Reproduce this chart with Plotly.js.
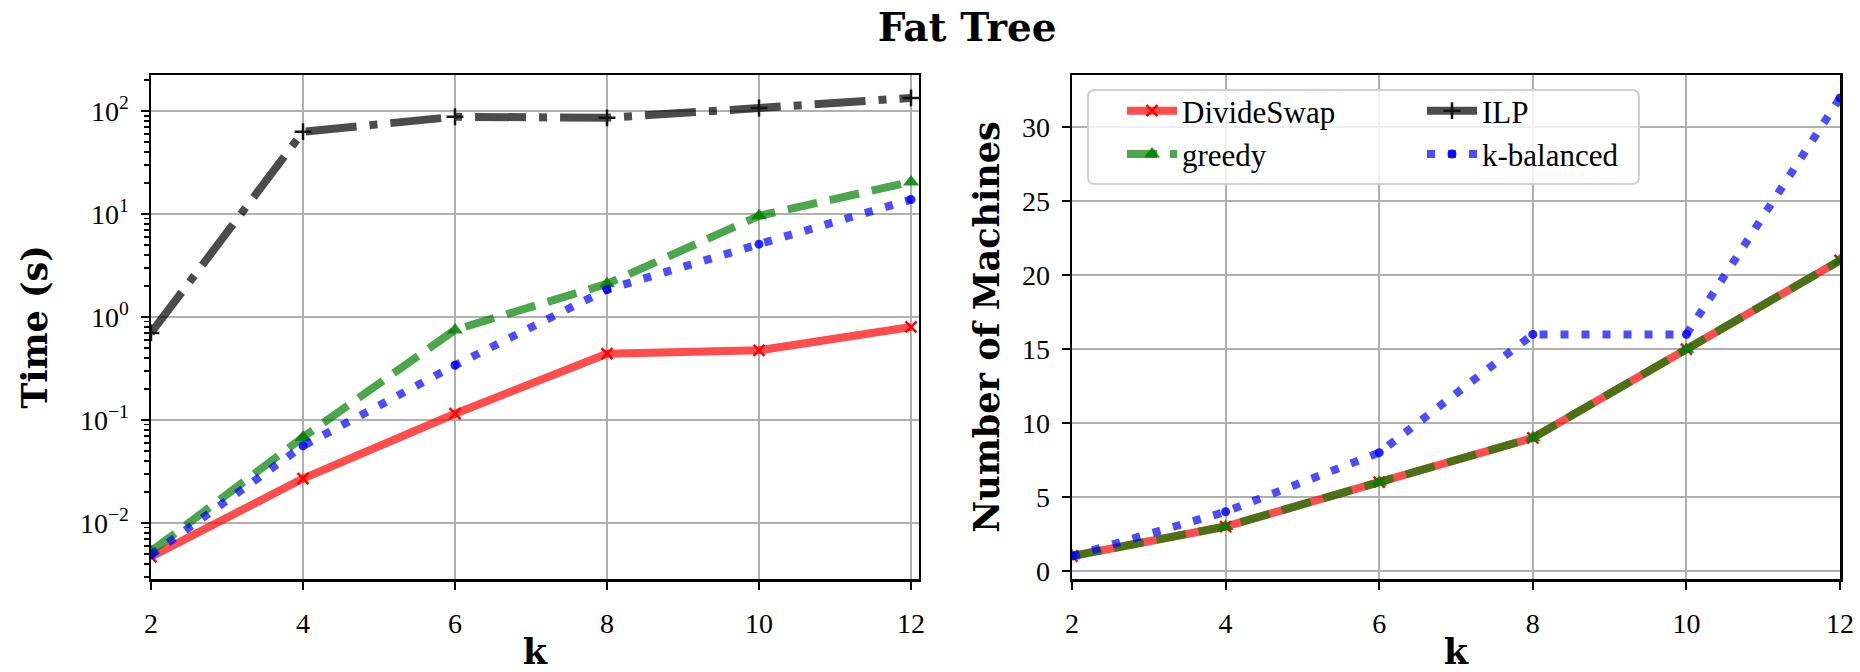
<!DOCTYPE html>
<html>
<head>
<meta charset="utf-8">
<script src="https://cdn.plot.ly/plotly-3.0.1.min.js"></script>
<style>html,body{margin:0;padding:0;background:#fff;}#chart{width:1860px;height:672px;}</style>
</head>
<body>
<div id="chart"></div>
<script>
// ---- data ----
const k = [2, 4, 6, 8, 10, 12];
const timeDivideSwap = [0.0047, 0.027, 0.115, 0.44, 0.475, 0.8];
const timeGreedy = [0.0053, 0.068, 0.75, 2.1, 9.6, 20.5];
const timeILP = [0.7, 63, 88, 86, 107, 134];
const timeKBalanced = [0.0049, 0.056, 0.34, 1.85, 5.1, 13.8];
const machinesDivideSwap = [1, 3, 6, 9, 15, 21];
const machinesGreedy = [1, 3, 6, 9, 15, 21];
const machinesKBalanced = [1, 4, 8, 16, 16, 32];
const xTicks = [2, 4, 6, 8, 10, 12];
const logTickVals = [0.01, 0.1, 1, 10, 100];
const logTickText = ['10<sup>−2</sup>', '10<sup>−1</sup>', '10<sup>0</sup>', '10<sup>1</sup>', '10<sup>2</sup>'];
const machineTicks = [0, 5, 10, 15, 20, 25, 30];

// minor tick positions for log axis
const minorLog = [];
for (let e = -3; e <= 2; e++) for (let m = 2; m <= 9; m++) minorLog.push(m * Math.pow(10, e));

const LW = 8;
const styles = {
  DivideSwap: {line: {color: 'rgba(255,0,0,0.7)', width: LW, dash: 'solid'},
               marker: {symbol: 'x-thin', size: 11, color: 'rgb(255,0,0)', line: {color: 'rgb(255,0,0)', width: 2.5}}},
  greedy: {line: {color: 'rgba(0,128,0,0.7)', width: LW, dash: '30px,13px'},
           marker: {symbol: 'triangle-up', size: 14, color: 'rgba(0,128,0,0.85)', line: {width: 0}}},
  ILP: {line: {color: 'rgba(0,0,0,0.7)', width: LW, dash: '51px,13px,8px,13px'},
        marker: {symbol: 'cross-thin', size: 12, color: 'rgb(20,20,20)', line: {color: 'rgb(20,20,20)', width: 2.5}}},
  kbal: {line: {color: 'rgba(0,0,255,0.7)', width: LW, dash: '8px,13px'},
         marker: {symbol: 'circle', size: 9, color: 'rgba(0,0,255,0.85)', line: {width: 0}}}
};

function tr(name, x, y, st, xa, ya, show, leg) {
  return {type: 'scatter', mode: 'lines+markers', name: name, x: x, y: y,
    xaxis: xa, yaxis: ya, line: st.line, marker: st.marker,
    showlegend: show, legend: leg, hoverinfo: 'skip'};
}

const data = [
  tr('DivideSwap', k, timeDivideSwap, styles.DivideSwap, 'x', 'y', true, 'legend'),
  tr('greedy', k, timeGreedy, styles.greedy, 'x', 'y', true, 'legend'),
  tr('ILP', k, timeILP, styles.ILP, 'x', 'y', true, 'legend2'),
  tr('k-balanced', k, timeKBalanced, styles.kbal, 'x', 'y', true, 'legend2'),
  tr('DivideSwap', k, machinesDivideSwap, styles.DivideSwap, 'x2', 'y2', false, 'legend'),
  tr('greedy', k, machinesGreedy, styles.greedy, 'x2', 'y2', false, 'legend'),
  tr('k-balanced', k, machinesKBalanced, styles.kbal, 'x2', 'y2', false, 'legend2')
];

const tickFont = {family: 'Liberation Serif', size: 28, color: '#000'};
const boldFont = {family: 'DejaVu Serif', size: 35, color: '#000'};
const gridColor = '#b0b0b0';

function xaxis(domain, range, anchor) {
  return {domain: domain, range: range, anchor: anchor, tickmode: 'array', tickvals: xTicks,
    ticks: 'outside', ticklen: 8, tickwidth: 2, tickcolor: '#000', ticklabelstandoff: 10,
    showline: true, linecolor: '#000', linewidth: 2.5, mirror: true,
    showgrid: true, gridcolor: gridColor, gridwidth: 2, zeroline: false,
    tickfont: tickFont, title: {text: '<b>k</b>', font: boldFont, standoff: 12}};
}

// legend frame (paper coords of the plotting area)
const P = {l: 151, r: 20, t: 75, b: 93, W: 1860, H: 672};
const pw = P.W - P.l - P.r, ph = P.H - P.t - P.b;
function px(x) { return (x - P.l) / pw; }
function py(y) { return (P.H - P.b - y) / ph; }
function roundRect(x0, y0, x1, y1, r) {
  const rx = r / pw, ry = r / ph;
  const a = px(x0), b = px(x1), top = py(y0), bot = py(y1);
  return `M${a + rx},${top} L${b - rx},${top} Q${b},${top} ${b},${top - ry} L${b},${bot + ry} Q${b},${bot} ${b - rx},${bot} L${a + rx},${bot} Q${a},${bot} ${a},${bot + ry} L${a},${top - ry} Q${a},${top} ${a + rx},${top} Z`;
}

const legFont = {family: 'Liberation Serif', size: 31, color: '#000'};
const layout = {
  width: P.W, height: P.H,
  paper_bgcolor: '#fff', plot_bgcolor: '#fff',
  margin: {l: P.l, r: P.r, t: P.t, b: P.b},
  title: {text: '<b>Fat Tree</b>', x: 0.52, xanchor: 'center', y: 0.96, yanchor: 'middle',
    font: {family: 'DejaVu Serif', size: 39, color: '#000'}},
  xaxis: xaxis([0, 0.4547], [2, 12.105], 'y'),
  xaxis2: xaxis([0.5453, 1], [2, 12], 'y2'),
  yaxis: {domain: [0, 1], type: 'log', range: [-2.544, 2.35], anchor: 'x',
    tickmode: 'array', tickvals: logTickVals, ticktext: logTickText,
    ticks: 'outside', ticklen: 8, tickwidth: 2, tickcolor: '#000', ticklabelstandoff: 6,
    minor: {tickmode: 'array', tickvals: minorLog, ticks: 'outside', ticklen: 5, tickwidth: 1.5, tickcolor: '#000', showgrid: false},
    showline: true, linecolor: '#000', linewidth: 2.5, mirror: true,
    showgrid: true, gridcolor: gridColor, gridwidth: 2, zeroline: false,
    tickfont: tickFont, title: {text: '<b>Time (s)</b>', font: boldFont, standoff: 22}},
  yaxis2: {domain: [0, 1], range: [-0.55, 33.55], anchor: 'x2',
    tickmode: 'array', tickvals: machineTicks,
    ticks: 'outside', ticklen: 8, tickwidth: 2, tickcolor: '#000', ticklabelstandoff: 6,
    showline: true, linecolor: '#000', linewidth: 2.5, mirror: true,
    showgrid: true, gridcolor: gridColor, gridwidth: 2, zeroline: false,
    tickfont: tickFont, title: {text: '<b>Number of Machines</b>', font: boldFont, standoff: 12}},
  legend: {x: px(1122), y: py(84), xanchor: 'left', yanchor: 'top', orientation: 'v',
    itemwidth: 50, bgcolor: 'rgba(0,0,0,0)', borderwidth: 0, tracegroupgap: 0, font: legFont},
  legend2: {x: px(1422), y: py(84), xanchor: 'left', yanchor: 'top', orientation: 'v',
    itemwidth: 50, bgcolor: 'rgba(0,0,0,0)', borderwidth: 0, tracegroupgap: 0, font: legFont},
  shapes: [{type: 'path', xref: 'paper', yref: 'paper', layer: 'above',
    path: roundRect(1088, 90, 1639, 184, 7),
    fillcolor: 'rgba(255,255,255,0.8)', line: {color: 'rgba(204,204,204,0.9)', width: 2}}],
  showlegend: true
};

Plotly.newPlot('chart', data, layout, {displayModeBar: false, staticPlot: true});
</script>
</body>
</html>
